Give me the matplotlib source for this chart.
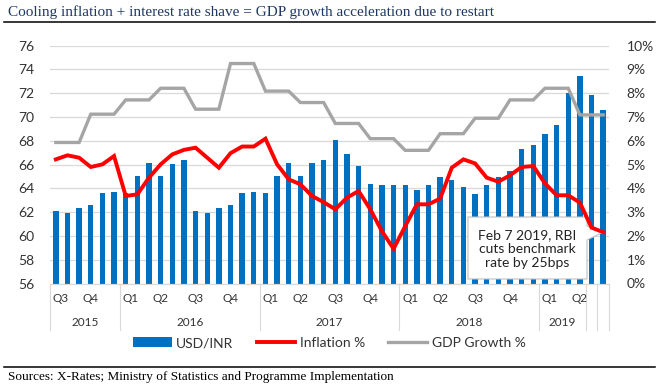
import matplotlib
matplotlib.use('Agg')
import matplotlib.pyplot as plt
import matplotlib.transforms as mtransforms
from matplotlib.lines import Line2D
from matplotlib.patches import Patch, Polygon

# Datos mensuales, julio 2015 - junio 2019
usd_inr = [62.07, 61.92, 62.35, 62.6, 63.58, 63.7, 63.6, 65.0, 66.17, 65.0, 66.08, 66.4,
           62.07, 61.92, 62.35, 62.6, 63.58, 63.7, 63.58, 65.0, 66.17, 65.0, 66.1, 66.4,
           68.05, 66.92, 65.86, 64.4, 64.3, 64.3, 64.3, 63.83, 64.3, 64.96, 64.7, 64.1,
           63.55, 64.3, 64.96, 65.5, 67.35, 67.68, 68.55, 69.3, 72.03, 73.44, 71.84, 70.63]
inflation = [5.22, 5.39, 5.29, 4.9, 5.01, 5.36, 3.68, 3.75, 4.45, 5.01, 5.43, 5.62,
             5.71, 5.29, 4.87, 5.48, 5.76, 5.76, 6.09, 5.01, 4.38, 4.17, 3.68, 3.42,
             3.12, 3.61, 3.89, 3.12, 2.2, 1.46, 2.41, 3.33, 3.33, 3.57, 4.87, 5.22,
             5.05, 4.45, 4.28, 4.55, 4.9, 4.94, 4.21, 3.71, 3.71, 3.4, 2.35, 2.16]
gdp_growth = [5.93, 5.93, 5.93, 7.12, 7.12, 7.12, 7.72, 7.72, 7.72, 8.21, 8.21, 8.21,
              7.33, 7.33, 7.33, 9.25, 9.25, 9.25, 8.09, 8.09, 8.09, 7.61, 7.61, 7.61,
              6.73, 6.73, 6.73, 6.09, 6.09, 6.09, 5.6, 5.6, 5.6, 6.3, 6.3, 6.3,
              6.95, 6.95, 6.95, 7.72, 7.72, 7.72, 8.21, 8.21, 8.21, 7.09, 7.09, 7.09]

# Categorias del eje X (dos niveles, como en Excel)
quarter_labels = ['Q3', 'Q4', 'Q1', 'Q2', 'Q3', 'Q4', 'Q1', 'Q2', 'Q3', 'Q4',
                  'Q1', 'Q2', 'Q3', 'Q4', 'Q1', 'Q2']
quarter_sizes = [3, 3, 3, 3, 3, 3, 3, 3, 3, 3, 3, 3, 3, 3, 3, 1]
year_labels = ['2015', '2016', '2017', '2018', '2019', '', '']
year_sizes = [6, 12, 12, 12, 4, 1, 1]

left_ticks = list(range(56, 77, 2))
right_ticks = list(range(0, 11))

title = 'Cooling inflation + interest rate shave = GDP growth acceleration due to restart'
source = 'Sources: X-Rates; Ministry of Statistics and Programme Implementation'
note = 'Feb 7 2019, RBI\ncuts benchmark\nrate by 25bps'

W, H = 659, 388


def fx(px):
    return px / W


def fy(py):
    return 1 - py / H


sans = ['Lato', 'DejaVu Sans']
serif = ['Liberation Serif', 'DejaVu Serif']
txt_color = '#333333'

fig = plt.figure(figsize=(W / 100, H / 100), dpi=100)
ax = fig.add_axes([fx(50), fy(283.5), (609 - 50) / W, (283.5 - 45.7) / H])
ax2 = ax.twinx()

x = list(range(len(usd_inr)))
ax.bar(x, usd_inr, width=0.46, color='#0070C0', zorder=2)
ax.set_xlim(-0.5, len(x) - 0.5)
ax.set_ylim(56, 76)
ax.set_yticks(left_ticks)
ax.set_yticklabels([str(v) for v in left_ticks], fontfamily=sans, fontsize=10, color=txt_color)
ax.set_xticks([])
ax.set_axisbelow(True)
ax.yaxis.grid(True, color='#D9D9D9', lw=0.9)
ax.tick_params(axis='y', length=0, pad=11)

ax2.set_ylim(0, 10)
ax2.set_yticks(right_ticks)
ax2.set_yticklabels(['{}%'.format(v) for v in right_ticks], fontfamily=sans, fontsize=10, color=txt_color)
ax2.tick_params(axis='y', length=0, pad=12.5)
ax2.plot(x, gdp_growth, color='#A5A5A5', lw=2.4, zorder=3, solid_joinstyle='miter')
ax2.plot(x, inflation, color='#FF0000', lw=2.8, zorder=4, solid_joinstyle='miter')

for a in (ax, ax2):
    for s in ('top', 'left', 'right'):
        a.spines[s].set_visible(False)
    a.spines['bottom'].set_color('#D9D9D9')
    a.spines['bottom'].set_linewidth(0.8)

# Eje de categorias en dos niveles
blend = mtransforms.blended_transform_factory(ax.transData, fig.transFigure)
bounds = [-0.5]
for n in year_sizes:
    bounds.append(bounds[-1] + n)
for b in bounds:
    ax.plot([b, b], [fy(283.5), fy(330)], transform=blend, clip_on=False,
            color='#D9D9D9', lw=0.8)

start = 0
for lab, n in zip(year_labels, year_sizes):
    if lab:
        ax.text(start + (n - 1) / 2, fy(323), lab, transform=blend, ha='center', va='center',
                fontfamily=sans, fontsize=8.5, color=txt_color)
    start += n

year_starts = [0]
for n in year_sizes[:-1]:
    year_starts.append(year_starts[-1] + n)
start = 0
for lab, n in zip(quarter_labels, quarter_sizes):
    off = 0.42 if start in year_starts else 0.0
    ax.text(start + off, fy(298), lab, transform=blend, ha='center', va='center',
            fontfamily=sans, fontsize=8.5, color=txt_color)
    start += n

# Cuadro de anotacion con punta hacia el ultimo dato de inflacion
fig.canvas.draw()
tip = fig.transFigure.inverted().transform(ax2.transData.transform((x[-1], inflation[-1])))
pts = [(fx(468), fy(217)), (fx(587), fy(217)), (fx(587), fy(226)), tuple(tip),
       (fx(587), fy(240)), (fx(587), fy(279)), (fx(468), fy(279))]
ax2.add_patch(Polygon(pts, closed=True, transform=fig.transFigure, facecolor='white',
                      edgecolor='#BFBFBF', lw=0.8, zorder=2.5, clip_on=False))
ax2.text(fx(527.5), fy(249), note, transform=fig.transFigure, ha='center', va='center',
         fontfamily=sans, fontsize=10, color='#222222', linespacing=1.2, zorder=5)

# Leyenda
handles = [Patch(facecolor='#0070C0', label='USD/INR'),
           Line2D([], [], color='#FF0000', lw=2.8, label='Inflation %'),
           Line2D([], [], color='#A5A5A5', lw=2.4, label='GDP Growth %')]
fig.legend(handles=handles, loc='center', bbox_to_anchor=(fx(329), fy(343)), ncol=3,
           frameon=False, prop={'family': sans, 'size': 10}, labelcolor=txt_color,
           handlelength=2.8, handletextpad=0.3, columnspacing=1.7)

# Titulo y fuente
fig.text(fx(8), fy(12), title, fontfamily=serif, fontsize=11, color='#1F3864', va='center')
fig.add_artist(Line2D([fx(4), fx(655)], [fy(21.5), fy(21.5)], color='black', lw=1.1))
fig.add_artist(Line2D([fx(4), fx(655)], [fy(367), fy(367)], color='black', lw=1.1))
fig.text(fx(8), fy(377), source, fontfamily=serif, fontsize=9.5, color='black', va='center')

plt.savefig('out.png', dpi=100)
plt.close()
